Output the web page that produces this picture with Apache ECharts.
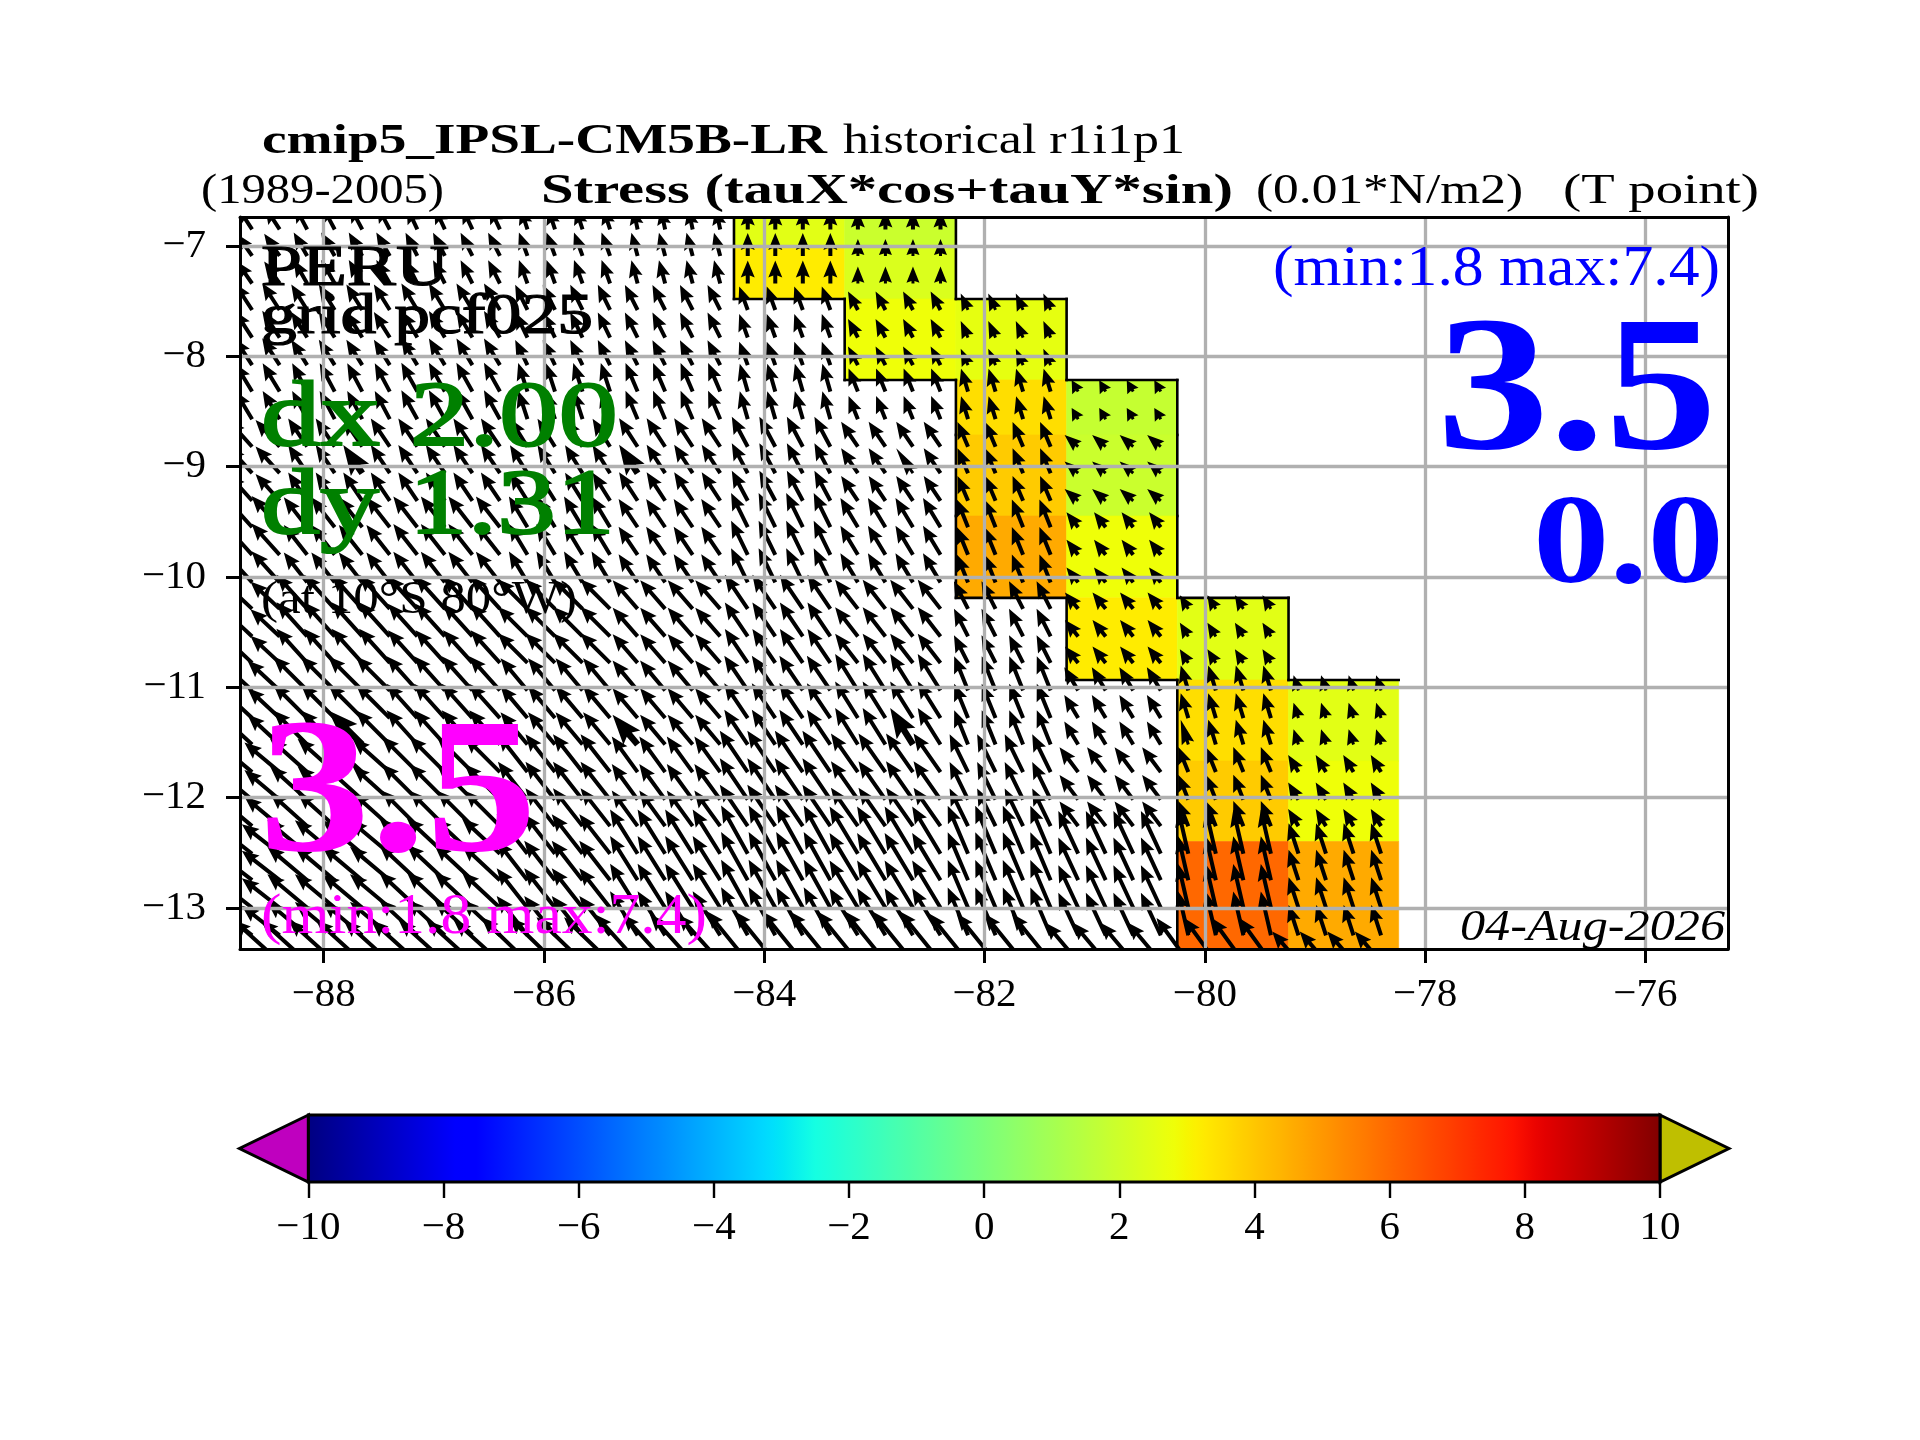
<!DOCTYPE html>
<html><head><meta charset="utf-8">
<script src="https://cdn.jsdelivr.net/npm/echarts@6/dist/echarts.min.js"></script>
<style>html,body{margin:0;padding:0;background:#fff}#c{width:1920px;height:1440px}</style>
</head><body><div id="c"></div>
<script>
// ---------- data ----------
const xTicks = [-88,-86,-84,-82,-80,-78,-76];
const yTicks = [-13,-12,-11,-10,-9,-8,-7];
const barTicks = [-10,-8,-6,-4,-2,0,2,4,6,8,10];
// model cell edges
const cellLonEdges = [-88.76,-88.276,-87.27,-86.27,-85.27,-84.275,-83.27,-82.26,-81.255,-80.25,-79.24,-78.24];
const cellLatEdges = [-6.737,-7.0,-7.48,-8.215,-8.713,-9.448,-10.19,-10.935,-11.67,-12.40,-13.374];
const n = null;
// colour values (rows north to south, columns west to east)
const cellValues = [
 [n,n,n,n,n,2.5,1.9,n,n,n,n],
 [n,n,n,n,n,3.2,2.3,n,n,n,n],
 [n,n,n,n,n,n,2.8,2.6,n,n,n],
 [n,n,n,n,n,n,n,3.5,1.8,n,n],
 [n,n,n,n,n,n,n,3.9,1.9,n,n],
 [n,n,n,n,n,n,n,4.6,2.8,n,n],
 [n,n,n,n,n,n,n,n,3.2,2.5,n],
 [n,n,n,n,n,n,n,n,n,3.5,2.5],
 [n,n,n,n,n,n,n,n,n,3.9,2.8],
 [n,n,n,n,n,n,n,n,n,6.0,4.6]
];
// arrow tail positions, by model cell
const arrowLons = [
 [-88.65,-88.40],[-88.15,-87.90,-87.65,-87.40],[-87.15,-86.90,-86.65,-86.40],[-86.15,-85.90,-85.65,-85.40],
 [-85.15,-84.90,-84.65,-84.40],[-84.15,-83.90,-83.65,-83.40],[-83.15,-82.90,-82.65,-82.40],[-82.15,-81.90,-81.65,-81.40],
 [-81.15,-80.90,-80.65,-80.40],[-80.15,-79.90,-79.65,-79.40],[-79.15,-78.90,-78.65,-78.40]
];
const arrowLats = [
 [-6.85],[-7.09,-7.34],[-7.58,-7.83,-8.08],[-8.32,-8.57],[-8.82,-9.06,-9.31],[-9.55,-9.80,-10.05],
 [-10.29,-10.54,-10.78],[-11.03,-11.28,-11.52],[-11.77,-12.02,-12.26],[-12.51,-12.75,-13.00,-13.25],[-13.49]
];
// arrow direction (degrees west of north)
const arrowAngle = [
 [33,28,25,18,12,0,0],
 [35,30,27,20,15,0,0],
 [33,32,31,26,27,20,28,24],
 [31,28,29,18,23,16,22,17,30],
 [42,34,34,32,33,28,34,23,49],
 [42,38,38,31,34,26,31,22,38],
 [47,42,42,45,41,34,38,27,39,32],
 [47,45,42,40,40,34,32,22,31,17,18],
 [50,48,45,38,36,34,35,26,37,22,31],
 [52,50,47,38,32,29,31,23,25,13,18],
 [48,48,48,46,42,39,39,39,40,36,41]
];
// arrow length
const arrowLength = [
 [27,27,25,23,22,21,19],
 [27,27,26,25,24,23,17],
 [32,30,31,28,28,25,21,18],
 [33,32,33,30,31,29,25,24,13],
 [36,34,34,33,34,34,30,27,18],
 [42,38,39,36,34,38,34,30,19],
 [40,46,44,42,38,41,37,31,21,16],
 [44,48,46,42,39,42,43,37,27,26,16],
 [46,50,50,48,44,50,47,42,31,27,20],
 [48,52,52,50,52,55,55,52,47,45,32],
 [62,62,62,64,64,65,65,62,51,54,40]
];
// arrows drawn heavier: [lon, lat]
const heavyArrows = [[-87.65,-9.06],[-85.15,-9.06],[-82.65,-9.06],[-87.65,-11.52],[-85.15,-11.52],[-82.65,-11.52],[-80.15,-11.52]];

// ---------- colours ----------
function ip(t,xs,ys){for(let i=1;i<xs.length;i++){if(t<=xs[i]){return ys[i-1]+(ys[i]-ys[i-1])*(t-xs[i-1])/(xs[i]-xs[i-1]);}}return ys[ys.length-1];}
function jet(t){
 const r=ip(t,[0,.35,.66,.89,1],[0,0,1,1,.5]),g=ip(t,[0,.125,.375,.64,.91,1],[0,0,1,1,0,0]),b=ip(t,[0,.11,.34,.65,1],[.5,1,1,0,0]);
 return 'rgb('+Math.round(r*255)+','+Math.round(g*255)+','+Math.round(b*255)+')';
}
const valueColor = v => jet((v+10)/20);
const barStops=[];for(let i=0;i<=128;i++){barStops.push({offset:i/128,color:jet(i/128)});}

// ---------- series data ----------
const cellData=[];cellValues.forEach((row,g)=>row.forEach((v,w)=>{if(v!==null)cellData.push([w,g,v]);}));
const arrowData=[];
arrowLats.forEach((lats,g)=>lats.forEach(lat=>{
 arrowLons.forEach((lons,w)=>{
  const a=arrowAngle[g][w];if(a===undefined||a===null)return;
  lons.forEach(lon=>{
   const h=heavyArrows.some(p=>p[0]===lon&&p[1]===lat)?1:0;
   arrowData.push([lon,lat,a,arrowLength[g][w],h]);
  });
 });
}));
function renderCell(params,api){
 const w=api.value(0),g=api.value(1),v=api.value(2);
 const p0=api.coord([cellLonEdges[w],cellLatEdges[g]]),p1=api.coord([cellLonEdges[w+1],cellLatEdges[g+1]]);
 return {type:'rect',shape:{x:p0[0],y:p0[1],width:p1[0]-p0[0],height:p1[1]-p0[1]},style:{fill:valueColor(v),stroke:valueColor(v),lineWidth:0.6}};
}
function renderEdge(params,api){
 const w=api.value(0),g=api.value(1);
 const p0=api.coord([cellLonEdges[w],cellLatEdges[g]]),p1=api.coord([cellLonEdges[w+1],cellLatEdges[g+1]]);
 const empty=(gg,ww)=>gg>=0&&gg<cellValues.length&&ww>=0&&ww<11&&cellValues[gg][ww]===null;
 const kids=[];const st={stroke:'#000',lineWidth:2.6,lineCap:'square'};
 const add=(a,b,c,d)=>kids.push({type:'line',shape:{x1:a,y1:b,x2:c,y2:d},style:st});
 if(empty(g-1,w))add(p0[0],p0[1],p1[0],p0[1]);
 if(empty(g+1,w))add(p0[0],p1[1],p1[0],p1[1]);
 if(empty(g,w-1))add(p0[0],p0[1],p0[0],p1[1]);
 if(empty(g,w+1))add(p1[0],p0[1],p1[0],p1[1]);
 return {type:'group',children:kids};
}
function renderArrow(params,api){
 const t=api.coord([api.value(0),api.value(1)]);
 const a=api.value(2)*Math.PI/180,L=api.value(3),heavy=api.value(4);
 const ux=-Math.sin(a),uy=-Math.cos(a),nx=-uy,ny=ux;
 let w=heavy?6.5:4,hl=heavy?30:17,hw=heavy?22:14,ha=heavy?26:15;
 if(L<hl+2){hl=L*0.95;ha=L*0.85;w=3;hw=13;}
 const P=(d,o)=>[t[0]+ux*d+nx*o,t[1]+uy*d+ny*o];
 return {type:'polygon',shape:{points:[P(0,w/2),P(L-ha,w/2),P(L-hl,hw/2),P(L,0),P(L-hl,-hw/2),P(L-ha,-w/2),P(0,-w/2)]},style:{fill:'#000'}};
}
function renderBar(params,api){
 const a=api.coord([-10,1]),b=api.coord([10,0]),tl=api.coord([-11.02,.5]),tr=api.coord([11.02,.5]);
 const o={stroke:'#000',lineWidth:3,lineJoin:'miter'};
 return {type:'group',children:[
  {type:'polygon',shape:{points:[[a[0],a[1]],tl,[a[0],b[1]]]},style:Object.assign({fill:'#bf00bf'},o)},
  {type:'polygon',shape:{points:[[b[0],a[1]],tr,[b[0],b[1]]]},style:Object.assign({fill:'#bfbf00'},o)},
  {type:'rect',shape:{x:a[0],y:a[1],width:b[0]-a[0],height:b[1]-a[1]},style:Object.assign({fill:new echarts.graphic.LinearGradient(0,0,1,0,barStops)},o)}
 ]};
}
// ---------- text ----------
const FF='"Liberation Serif","Times New Roman",serif';
const ctx=document.createElement('canvas').getContext('2d');
function label(text,x,base,size,opt){
 opt=opt||{};
 const font=(opt.italic?'italic ':'')+(opt.bold?'bold ':'')+size+'px '+FF;
 ctx.font=font;ctx.textBaseline='middle';
 const m=ctx.measureText(text);
 const drop=ctx.measureText('H').actualBoundingBoxDescent;
 const sx=opt.width?opt.width/m.width:1;
 const style={text:text,font:font,fill:opt.color||'#000',textAlign:'left',textVerticalAlign:'middle'};
 if(opt.heavy){style.stroke=opt.color||'#000';style.lineWidth=opt.heavy;}
 return {type:'text',x:x,y:base-drop,scaleX:sx,z:50,silent:true,style:style};
}
const texts=[
 label('cmip5_IPSL-CM5B-LR',262,153,42,{bold:true,width:565}),
 label('historical r1i1p1',843,153,42,{width:342}),
 label('(1989-2005)',201,203,42,{width:243}),
 label('Stress (tauX*cos+tauY*sin)',541,203,42,{bold:true,width:692}),
 label('(0.01*N/m2)',1256,203,42,{width:267}),
 label('(T point)',1563,203,42,{width:196}),
 label('PERU',261,285,58,{width:188,heavy:1.2}),
 label('grid pcf025',261,333,56,{width:332,heavy:1.2}),
 label('dx 2.00',261,445,94,{color:'#008000',width:357,heavy:2}),
 label('dy 1.31',261,533,94,{color:'#008000',width:354,heavy:2}),
 label('(at 10°S 80°W)',261,613,46,{width:316}),
 label('3.5',259,850,192,{bold:true,color:'#ff00ff',width:278}),
 label('(min:1.8 max:7.4)',261,933,58,{color:'#ff00ff',width:446}),
 label('(min:1.8 max:7.4)',1273,284.6,58,{color:'#0000ff',width:447}),
 label('3.5',1437,448,192,{bold:true,color:'#0000ff',width:280}),
 label('0.0',1533,583,128,{bold:true,color:'#0000ff',width:191}),
 label('04-Aug-2026',1460,940,44,{italic:true,width:265})
];
// ---------- chart ----------
const minus=v=>String(v).replace('-','\u2212');
const blackLine={show:true,onZero:false,lineStyle:{color:'#000',width:3}};
const chart=echarts.init(document.getElementById('c'),null,{width:1920,height:1440});
chart.setOption({
 animation:false,backgroundColor:'#fff',
 grid:[{left:240,top:217,width:1488,height:732,show:false},{left:308.4,top:1115,width:1351.6,height:67,show:false}],
 xAxis:[
  {type:'value',gridIndex:0,min:-88.76,max:-75.25,z:6,position:'bottom',
   axisLine:blackLine,axisTick:{show:true,length:14,lineStyle:{color:'#000',width:3},customValues:xTicks},
   axisLabel:{show:true,customValues:xTicks,formatter:minus,margin:26,fontFamily:FF,fontSize:41,color:'#000',hideOverlap:false},
   splitLine:{show:true,lineStyle:{color:'#b0b0b0',width:3.3}}},
  {type:'value',gridIndex:0,min:-88.76,max:-75.25,z:7,position:'top',axisLine:blackLine,axisTick:{show:false},axisLabel:{show:false},splitLine:{show:false}},
  {type:'value',gridIndex:1,min:-10,max:10,interval:2,z:6,position:'bottom',
   axisLine:{show:false},axisTick:{show:true,length:16,lineStyle:{color:'#000',width:2.4},customValues:barTicks},
   axisLabel:{show:true,customValues:barTicks,formatter:minus,margin:26,fontFamily:FF,fontSize:41,color:'#000'},splitLine:{show:false}}
 ],
 yAxis:[
  {type:'value',gridIndex:0,min:-13.374,max:-6.737,z:6,position:'left',
   axisLine:blackLine,axisTick:{show:true,length:14,lineStyle:{color:'#000',width:3},customValues:yTicks},
   axisLabel:{show:true,customValues:yTicks,formatter:minus,margin:34,fontFamily:FF,fontSize:41,color:'#000',hideOverlap:false},
   splitLine:{show:true,lineStyle:{color:'#b0b0b0',width:3.3}}},
  {type:'value',gridIndex:0,min:-13.374,max:-6.737,z:7,position:'right',axisLine:blackLine,axisTick:{show:false},axisLabel:{show:false},splitLine:{show:false}},
  {type:'value',gridIndex:1,min:0,max:1,show:false}
 ],
 series:[
  {type:'custom',name:'cells',xAxisIndex:0,yAxisIndex:0,z:2,clip:true,silent:true,data:cellData,renderItem:renderCell,encode:{x:0,y:1}},
  {type:'custom',name:'coast',xAxisIndex:0,yAxisIndex:0,z:3,clip:true,silent:true,data:cellData,renderItem:renderEdge,encode:{x:0,y:1}},
  {type:'custom',name:'arrows',xAxisIndex:0,yAxisIndex:0,z:4,clip:true,silent:true,progressive:0,data:arrowData,renderItem:renderArrow,encode:{x:0,y:1}},
  {type:'custom',name:'colorbar',xAxisIndex:2,yAxisIndex:2,z:2,clip:false,silent:true,data:[[0,0.5]],renderItem:renderBar}
 ],
 graphic:{elements:texts}
});
</script></body></html>
